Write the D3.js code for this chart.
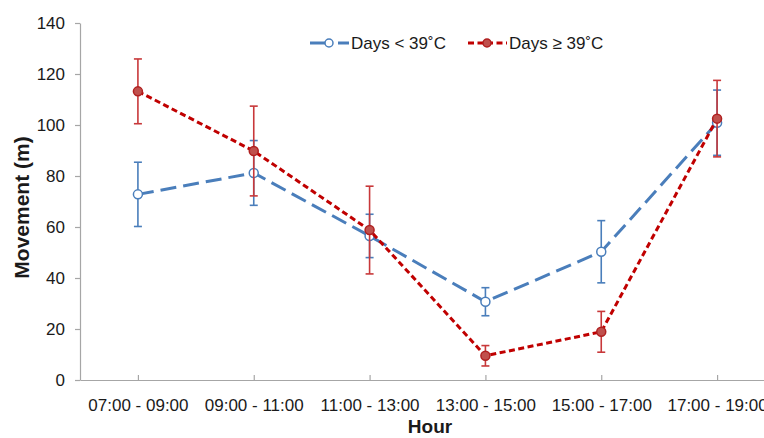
<!DOCTYPE html>
<html>
<head>
<meta charset="utf-8">
<script src="https://cdnjs.cloudflare.com/ajax/libs/d3/7.8.5/d3.min.js"></script>
<style>
  body { margin: 0; background: #fff; }
  svg text { font-family: "Liberation Sans", Arial, sans-serif; fill: #1a1a1a; }
  .axis path, .axis line { stroke: #a6a6a6; stroke-width: 1.2; }
  .axis text { font-size: 17px; }
</style>
</head>
<body>
<svg id="chart" width="764" height="438"></svg>
<script>
// categories + series
var hours = ["07:00 - 09:00", "09:00 - 11:00", "11:00 - 13:00", "13:00 - 15:00", "15:00 - 17:00", "17:00 - 19:00"];
var coolDays = [72.8, 81.2, 56.5, 30.7, 50.3, 100.9];
var coolErr  = [12.6, 12.7, 8.5, 5.5, 12.2, 12.8];
var hotDays  = [113.2, 89.8, 58.8, 9.5, 18.9, 102.5];
var hotErr   = [12.7, 17.6, 17.2, 4.0, 8.0, 15.0];
var yTicks = [0, 20, 40, 60, 80, 100, 120, 140];

var svg = d3.select("#chart");
var margin = {top: 23, left: 80, bottom: 58};
var plotRight = 775; // axis runs past the right edge of the picture
var height = +svg.attr("height") - margin.top - margin.bottom;

var x = d3.scalePoint().domain(hours).range([margin.left, plotRight]).padding(0.5);
var y = d3.scaleLinear().domain([0, 140]).range([margin.top + height, margin.top]);

svg.append("g")
    .attr("class", "x axis")
    .attr("transform", "translate(0," + y(0) + ")")
    .call(d3.axisBottom(x).tickSizeInner(-5).tickSizeOuter(0).tickPadding(18))
    .selectAll("text").attr("dy", "0.75em");

svg.append("g")
    .attr("class", "y axis")
    .attr("transform", "translate(" + margin.left + ",0)")
    .call(d3.axisLeft(y).tickValues(yTicks).tickSizeInner(5).tickSizeOuter(0).tickPadding(10));

// axis titles
svg.append("text")
    .attr("transform", "translate(29," + ((y(0) + y(140)) / 2 + 6) + ") rotate(-90)")
    .attr("text-anchor", "middle")
    .style("font-size", "21px").style("font-weight", "bold")
    .text("Movement (m)");

svg.append("text")
    .attr("x", 430).attr("y", 433)
    .attr("text-anchor", "middle")
    .style("font-size", "19px").style("font-weight", "bold")
    .text("Hour");

var series = [
  {name: "Days < 39\u02DAC", values: coolDays, err: coolErr, color: "#4a7ebb", dash: "16,7", fill: "#fff", stroke: "#4a7ebb", legendX: 310},
  {name: "Days \u2265 39\u02DAC", values: hotDays, err: hotErr, color: "#c00000", dash: "6,3.5", fill: "#c0504d", stroke: "#b02020", legendX: 468}
];

var line = d3.line()
    .x(function(d, i) { return x(hours[i]); })
    .y(function(d) { return y(d); });

series.forEach(function(s) {
  var g = svg.append("g");
  var barColor = s.fill === "#fff" ? s.color : "#c8383a";

  var bars = g.selectAll(".err")
      .data(s.values)
    .enter().append("g")
      .attr("class", "err")
      .attr("stroke", barColor)
      .attr("stroke-width", 1.6);
  bars.append("line")
      .attr("x1", function(d, i) { return x(hours[i]); })
      .attr("x2", function(d, i) { return x(hours[i]); })
      .attr("y1", function(d, i) { return y(d + s.err[i]); })
      .attr("y2", function(d, i) { return y(d - s.err[i]); });
  [1, -1].forEach(function(sign) {
    bars.append("line")
        .attr("x1", function(d, i) { return x(hours[i]) - 4; })
        .attr("x2", function(d, i) { return x(hours[i]) + 4; })
        .attr("y1", function(d, i) { return y(d + sign * s.err[i]); })
        .attr("y2", function(d, i) { return y(d + sign * s.err[i]); });
  });

  g.append("path")
      .datum(s.values)
      .attr("fill", "none")
      .attr("stroke", s.color)
      .attr("stroke-width", 3)
      .attr("stroke-dasharray", s.dash)
      .attr("d", line);

  g.selectAll("circle")
      .data(s.values)
    .enter().append("circle")
      .attr("cx", function(d, i) { return x(hours[i]); })
      .attr("cy", function(d) { return y(d); })
      .attr("r", 4.5)
      .attr("fill", s.fill)
      .attr("stroke", s.stroke)
      .attr("stroke-width", 1.5);

  // legend entry
  var lg = svg.append("g").attr("transform", "translate(" + s.legendX + ",43)");
  lg.append("line")
      .attr("x1", 0).attr("x2", 39)
      .attr("stroke", s.color).attr("stroke-width", 3)
      .attr("stroke-dasharray", s.dash === "16,7" ? "16,4,2,6,8,0" : s.dash);
  lg.append("circle")
      .attr("cx", 19).attr("r", 4)
      .attr("fill", s.fill).attr("stroke", s.stroke).attr("stroke-width", 1.5);
  lg.append("text")
      .attr("x", 41).attr("dy", "0.35em")
      .style("font-size", "17px")
      .text(s.name);
});
</script>
</body>
</html>
